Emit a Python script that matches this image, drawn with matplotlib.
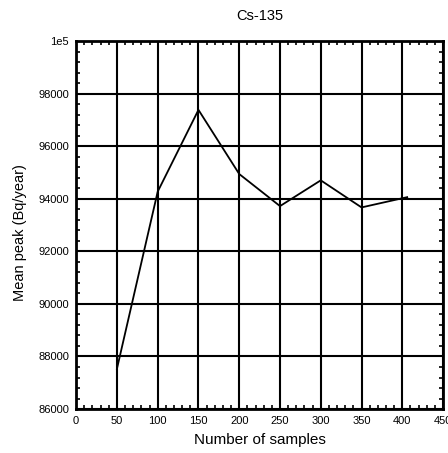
import numpy as np
import matplotlib
matplotlib.use('Agg')
import matplotlib.pyplot as plt
from matplotlib.ticker import MultipleLocator, FuncFormatter

matplotlib.rcParams.update({
    'font.family': 'sans-serif',
    'font.sans-serif': ['Liberation Sans', 'DejaVu Sans'],
})

# mean peak vs sample count
n_samples = [50, 100, 150, 200, 250, 300, 350, 406]
mean_peak = [87530, 94270, 97380, 94940, 93720, 94700, 93670, 94060]

fig = plt.figure(figsize=(4.48, 4.53), dpi=100)
ax = fig.add_axes([0.170, 0.097, 0.819, 0.8125])

ax.plot(n_samples, mean_peak, c='k', lw=1.3)

ax.set_xlim(0, 450)
ax.set_ylim(86000, 100000)
ax.xaxis.set_major_locator(MultipleLocator(50))
ax.xaxis.set_minor_locator(MultipleLocator(10))
ax.yaxis.set_major_locator(MultipleLocator(2000))
ax.yaxis.set_minor_locator(MultipleLocator(400))
ax.yaxis.set_major_formatter(FuncFormatter(lambda v, p: '1e5' if v >= 100000 else '%d' % v))

ax.grid(True, which='major', c='k', lw=1.5)
ax.tick_params(which='both', direction='in', top=True, right=True, labelsize=8)
ax.tick_params(which='major', length=0, pad=5)
ax.tick_params(which='minor', length=3, width=1.2)
for s in ax.spines.values():
    s.set_linewidth(2)

ax.set_title('Cs-135', fontsize=10.5, pad=15)
ax.set_xlabel('Number of samples', fontsize=11, labelpad=5)
ax.set_ylabel('Mean peak (Bq/year)', fontsize=10.5)
ax.yaxis.set_label_coords(-0.135, 0.48)

fig.savefig('out.png', dpi=100)
